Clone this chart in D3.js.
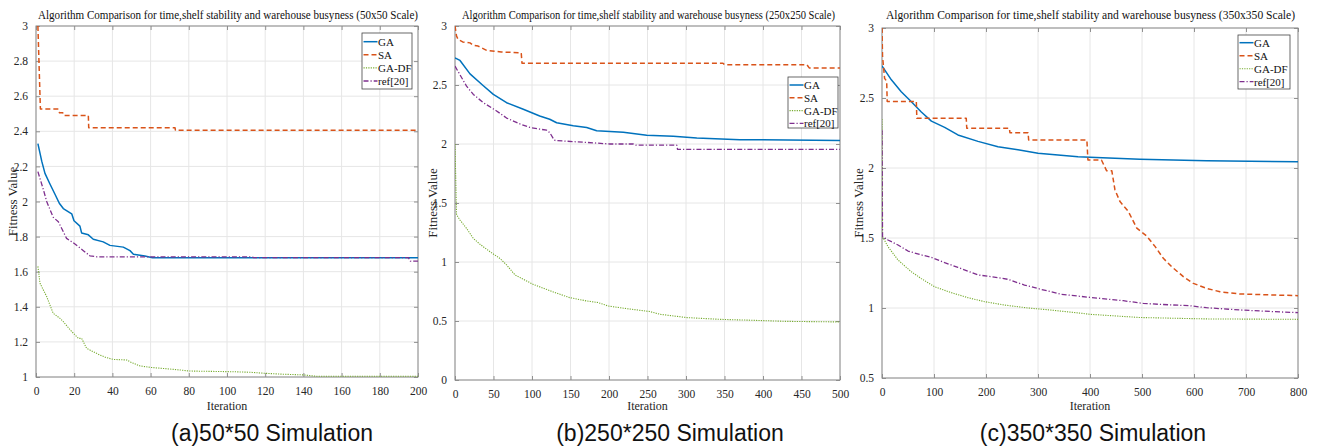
<!DOCTYPE html>
<html>
<head>
<meta charset="utf-8">
<script src="https://cdn.jsdelivr.net/npm/d3@7"></script>
<style>
html,body{margin:0;padding:0;background:#fff;}
svg{display:block;}
</style>
</head>
<body>
<svg id="chart" width="1318" height="448"></svg>
<script>
// ---------------- DATA ----------------
const seriesNames = ["GA", "SA", "GA-DF", "ref[20]"];
const titleTexts = [
  "Algorithm Comparison for time,shelf stability and warehouse busyness (50x50 Scale)",
  "Algorithm Comparison for time,shelf stability and warehouse busyness (250x250 Scale)",
  "Algorithm Comparison for time,shelf stability and warehouse busyness (350x350 Scale)"
];
const captionTexts = ["(a)50*50 Simulation", "(b)250*250 Simulation", "(c)350*350 Simulation"];
const xLabelText = "Iteration";
const yLabelText = "Fitness Value";

const xTicksA = [0, 20, 40, 60, 80, 100, 120, 140, 160, 180, 200];
const yTicksA = [1, 1.2, 1.4, 1.6, 1.8, 2, 2.2, 2.4, 2.6, 2.8, 3];
const xTicksB = [0, 50, 100, 150, 200, 250, 300, 350, 400, 450, 500];
const yTicksB = [0, 0.5, 1, 1.5, 2, 2.5, 3];
const xTicksC = [0, 100, 200, 300, 400, 500, 600, 700, 800];
const yTicksC = [0.5, 1, 1.5, 2, 2.5, 3];

// Panel (a) 50x50  [iteration, fitness]
const gaA = [[1,2.33],[3,2.23],[4.7,2.16],[7.3,2.10],[10,2.04],[12.2,1.99],[14.3,1.96],[18.7,1.93],[19.9,1.89],[23,1.86],[23.9,1.82],[27.4,1.81],[30,1.785],[35.2,1.77],[38.7,1.75],[45.7,1.74],[49.2,1.72],[51,1.70],[57,1.69],[61,1.68],[200,1.68]];
const saA = [[1,3.0],[2.3,2.527],[11.7,2.527],[12.3,2.506],[14,2.506],[14.5,2.49],[27.4,2.49],[27.6,2.42],[72.8,2.42],[73,2.406],[200,2.406]];
const gadfA = [[1,1.63],[2.1,1.534],[5.6,1.458],[9,1.363],[12.6,1.334],[14.3,1.315],[17.8,1.27],[20.4,1.24],[22.2,1.22],[23.9,1.22],[26.5,1.163],[30,1.144],[33.5,1.125],[37,1.11],[40.5,1.10],[47.5,1.097],[49.2,1.087],[51,1.078],[54.5,1.063],[59.7,1.055],[68.4,1.047],[75.4,1.04],[80.6,1.034],[103.3,1.03],[112,1.027],[120,1.021],[128.8,1.016],[140,1.012],[147,1.004],[200,1.004]];
const refA = [[1,2.17],[3.8,2.07],[5.6,2.00],[9,1.91],[11.7,1.885],[16,1.79],[19.5,1.765],[24.8,1.72],[28.3,1.69],[31.8,1.685],[113,1.685],[114,1.68],[195,1.68],[196,1.66],[200,1.66]];

// Panel (b) 250x250
const gaB = [[0,2.73],[6.5,2.708],[19.5,2.594],[36.8,2.494],[49.8,2.42],[67,2.35],[88.7,2.294],[110,2.237],[123,2.21],[132,2.18],[153.6,2.155],[171,2.14],[184,2.113],[218.6,2.10],[249,2.074],[283.5,2.066],[314,2.05],[370,2.037],[500,2.03]];
const saB = [[0,3.0],[2,2.915],[4,2.886],[10,2.865],[19.5,2.857],[23.8,2.837],[30,2.83],[41,2.794],[60,2.78],[86,2.773],[87,2.685],[348,2.685],[350,2.672],[457,2.672],[460,2.645],[500,2.645]];
const gadfB = [[0,2.0],[2,1.40],[6.5,1.355],[15,1.285],[23.8,1.20],[32.5,1.15],[45.5,1.087],[58.4,1.03],[67,0.975],[78,0.89],[84.4,0.868],[101.7,0.81],[127.7,0.746],[149,0.698],[171,0.67],[186,0.656],[199,0.627],[223,0.605],[253,0.58],[266,0.557],[301,0.529],[344,0.514],[387,0.506],[430,0.497],[500,0.492]];
const refB = [[0,2.66],[15,2.49],[23.8,2.42],[36.8,2.35],[54,2.28],[67,2.22],[84.4,2.17],[97.4,2.14],[110,2.126],[119,2.117],[123,2.097],[127.7,2.046],[130,2.03],[153.6,2.02],[179.6,2.01],[201,2.0],[231.6,2.0],[235,1.99],[288,1.99],[289,1.955],[500,1.955]];

// Panel (c) 350x350
const gaC = [[0,2.73],[18,2.63],[37,2.545],[56,2.475],[75.6,2.40],[95,2.335],[120.5,2.29],[146,2.236],[184.6,2.19],[223,2.152],[261.5,2.13],[300,2.105],[338.5,2.093],[377,2.08],[400,2.076],[496,2.062],[624,2.052],[800,2.045]];
const saC = [[0,3.0],[1,2.8],[5,2.64],[9,2.62],[10,2.475],[66,2.475],[67,2.355],[162,2.355],[163,2.284],[245,2.284],[246,2.252],[281,2.252],[282,2.20],[394,2.20],[396,2.057],[422,2.057],[432,1.98],[442,1.98],[448,1.843],[457.7,1.76],[473.7,1.69],[490,1.57],[509,1.514],[525,1.44],[541,1.355],[557,1.295],[579.5,1.224],[598.7,1.176],[624.4,1.14],[650,1.116],[688.5,1.10],[752.6,1.093],[800,1.088]];
const gadfC = [[0,2.35],[1,1.51],[11.5,1.438],[30.8,1.343],[56,1.26],[75.6,1.21],[101,1.152],[133,1.11],[165,1.074],[197.5,1.045],[236,1.021],[281,1.0],[326,0.985],[377,0.965],[400,0.955],[496,0.932],[624,0.922],[800,0.919]];
const refC = [[0,2.27],[1,1.51],[11.5,1.486],[30.8,1.45],[50,1.407],[75.6,1.379],[95,1.362],[120.5,1.324],[146,1.29],[184.6,1.236],[210,1.224],[242,1.205],[274,1.164],[306,1.133],[345,1.098],[400,1.076],[464,1.052],[502.5,1.033],[534.6,1.026],[592,1.016],[624,1.002],[688.5,0.986],[752.6,0.974],[800,0.967]];

// ---------------- STYLE / LAYOUT ----------------
const colors = ["#0072BD", "#D95319", "#77AC30", "#7E2F8E"];
const dashes = [null, "5,3", "1.2,1.2", "5,2,1.2,2"];
const widths = [1.5, 1.5, 1.1, 1.3];
const serif = "'Liberation Serif','Times New Roman',serif";
const sans = "'Liberation Sans',Arial,sans-serif";

const panels = [
  { l: 36, r: 418, t: 26, b: 377, xMax: 200, yMin: 1, yMax: 3, xt: xTicksA, yt: yTicksA,
    series: [gaA, saA, gadfA, refA], title: { x: 228, w: 380 }, ylabX: 13, capX: 272,
    legend: { x: 362, y: 33, w: 50, h: 56, row0: 8.7, step: 13.1 } },
  { l: 455, r: 840, t: 26, b: 380, xMax: 500, yMin: 0, yMax: 3, xt: xTicksB, yt: yTicksB,
    series: [gaB, saB, gadfB, refB], title: { x: 648.5, w: 373 }, ylabX: 433, capX: 670,
    legend: { x: 788, y: 77, w: 50, h: 51, row0: 8, step: 12.8 } },
  { l: 882, r: 1298, t: 28, b: 378, xMax: 800, yMin: 0.5, yMax: 3, xt: xTicksC, yt: yTicksC,
    series: [gaC, saC, gadfC, refC], title: { x: 1090.5, w: 409 }, ylabX: 859, capX: 1093,
    legend: { x: 1238, y: 35, w: 52, h: 54, row0: 7.7, step: 13 } }
];

const svg = d3.select("#chart");
const fmt = v => d3.format("~g")(v);

panels.forEach((p, i) => {
  const x = d3.scaleLinear().domain([0, p.xMax]).range([p.l, p.r]);
  const y = d3.scaleLinear().domain([p.yMin, p.yMax]).range([p.b, p.t]);
  const g = svg.append("g");

  // grid
  g.append("g").selectAll("line").data(p.xt).join("line")
    .attr("x1", d => x(d)).attr("x2", d => x(d)).attr("y1", p.t).attr("y2", p.b)
    .attr("stroke", "#e6e6e6").attr("stroke-width", 1);
  g.append("g").selectAll("line").data(p.yt).join("line")
    .attr("x1", p.l).attr("x2", p.r).attr("y1", d => y(d)).attr("y2", d => y(d))
    .attr("stroke", "#e6e6e6").attr("stroke-width", 1);

  // axes via d3 (bottom / left), inward ticks
  const xAxis = d3.axisBottom(x).tickValues(p.xt).tickFormat(fmt).tickSizeInner(-4).tickSizeOuter(0).tickPadding(10);
  const yAxis = d3.axisLeft(y).tickValues(p.yt).tickFormat(fmt).tickSizeInner(-4).tickSizeOuter(0).tickPadding(8);
  const gx = g.append("g").attr("transform", `translate(0,${p.b})`).call(xAxis);
  const gy = g.append("g").attr("transform", `translate(${p.l},0)`).call(yAxis);
  // mirrored ticks top / right
  const xAxisT = d3.axisTop(x).tickValues(p.xt).tickFormat("").tickSizeInner(-4).tickSizeOuter(0);
  const yAxisR = d3.axisRight(y).tickValues(p.yt).tickFormat("").tickSizeInner(-4).tickSizeOuter(0);
  const gxt = g.append("g").attr("transform", `translate(0,${p.t})`).call(xAxisT);
  const gyr = g.append("g").attr("transform", `translate(${p.r},0)`).call(yAxisR);
  [gx, gy, gxt, gyr].forEach(a => {
    a.select(".domain").remove();
    a.selectAll(".tick line").attr("stroke", "#777").attr("stroke-width", 0.8);
    a.selectAll("text").attr("fill", "#262626").style("font-family", serif).style("font-size", "11.5px");
  });

  // frame
  g.append("rect").attr("x", p.l).attr("y", p.t).attr("width", p.r - p.l).attr("height", p.b - p.t)
    .attr("fill", "none").attr("stroke", "#8a8a8a").attr("stroke-width", 1);

  // clip + lines
  const cid = "clip" + i;
  svg.append("clipPath").attr("id", cid).append("rect")
    .attr("x", p.l).attr("y", p.t - 1).attr("width", p.r - p.l).attr("height", p.b - p.t + 2);
  const line = d3.line().x(d => x(d[0])).y(d => y(d[1]));
  const lg = g.append("g").attr("clip-path", `url(#${cid})`);
  // draw order: GA, SA, GA-DF, ref[20]
  p.series.forEach((s, k) => {
    lg.append("path").datum(s).attr("d", line)
      .attr("fill", "none").attr("stroke", colors[k]).attr("stroke-width", widths[k])
      .attr("stroke-dasharray", dashes[k]).attr("stroke-linejoin", "round");
  });

  // title
  g.append("text").attr("x", p.title.x).attr("y", 19).attr("text-anchor", "middle")
    .attr("textLength", p.title.w).attr("lengthAdjust", "spacingAndGlyphs")
    .style("font-family", serif).style("font-size", "11.5px").attr("fill", "#111")
    .text(titleTexts[i]);

  // axis labels
  g.append("text").attr("x", (p.l + p.r) / 2).attr("y", 410).attr("text-anchor", "middle")
    .style("font-family", serif).style("font-size", "12px").attr("fill", "#262626").text(xLabelText);
  g.append("text").attr("transform", `translate(${p.ylabX + 4},${(p.t + p.b) / 2}) rotate(-90)`)
    .attr("text-anchor", "middle")
    .style("font-family", serif).style("font-size", "13px").attr("fill", "#262626").text(yLabelText);

  // caption
  g.append("text").attr("x", p.capX).attr("y", 441).attr("text-anchor", "middle")
    .style("font-family", sans).style("font-size", "23px").attr("fill", "#111").text(captionTexts[i]);

  // legend
  const L = p.legend;
  const leg = g.append("g");
  leg.append("rect").attr("x", L.x).attr("y", L.y).attr("width", L.w).attr("height", L.h)
    .attr("fill", "#fff").attr("stroke", "#444").attr("stroke-width", 0.8);
  seriesNames.forEach((n, k) => {
    const ry = L.y + L.row0 + k * L.step;
    leg.append("line").attr("x1", L.x + 1.5).attr("x2", L.x + 15.5).attr("y1", ry).attr("y2", ry)
      .attr("stroke", colors[k]).attr("stroke-width", widths[k]).attr("stroke-dasharray", dashes[k]);
    leg.append("text").attr("x", L.x + 16).attr("y", ry + 4)
      .style("font-family", serif).style("font-size", "11px").attr("fill", "#111").text(n);
  });
});
</script>
</body>
</html>
